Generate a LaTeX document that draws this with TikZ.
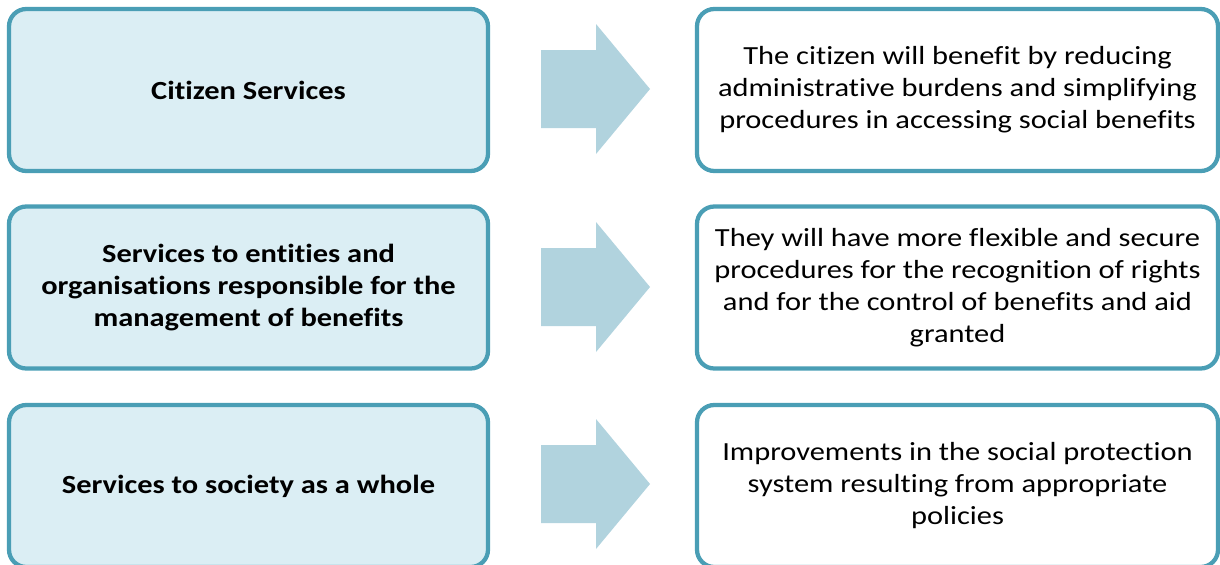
\documentclass[tikz,border=0pt]{standalone}
\usepackage{fontspec}
\setmainfont{Carlito}[FakeStretch=1.165,Ligatures=NoCommon]
\definecolor{frame}{RGB}{74,158,181}
\definecolor{leftfill}{RGB}{219,238,244}
\definecolor{arrowfill}{RGB}{177,211,222}
\begin{document}
\begin{tikzpicture}[x=0.75pt,y=-0.75pt,
  srcbox/.style={draw=frame,fill=leftfill,line width=3.2pt,rounded corners=13pt,
    minimum width=359.25pt,minimum height=121.5pt,align=center,
    font=\fontsize{19.6}{24}\selectfont\bfseries},
  gainbox/.style={draw=frame,fill=white,line width=3.2pt,rounded corners=13pt,
    minimum width=390.75pt,minimum height=121.5pt,align=center,
    font=\fontsize{19.6}{24}\selectfont}]
\clip (0,0) rectangle (1220,564);
\node[srcbox] (citizen) at (248.5,90) {Citizen Services};
\node[srcbox] (entities) at (248.5,287.5) {Services to entities and\\organisations responsible for the\\management of benefits};
\node[srcbox] (society) at (248.5,486) {Services to society as a whole};
\node[gainbox] (citizengain) at (957.5,90) {The citizen will benefit by reducing\\administrative burdens and simplifying\\procedures in accessing social benefits};
\node[gainbox] (entitiesgain) at (957.5,287.5) {They will have more flexible and secure\\procedures for the recognition of rights\\and for the control of benefits and aid\\granted};
\node[gainbox] (societygain) at (957.5,486) {Improvements in the social protection\\system resulting from appropriate\\policies};
\foreach \y in {89,287,484}
  \fill[arrowfill] (541,\y-39) -- (596,\y-39) -- (596,\y-65) -- (650,\y)
    -- (596,\y+65) -- (596,\y+39) -- (541,\y+39) -- cycle;
\end{tikzpicture}
\end{document}
